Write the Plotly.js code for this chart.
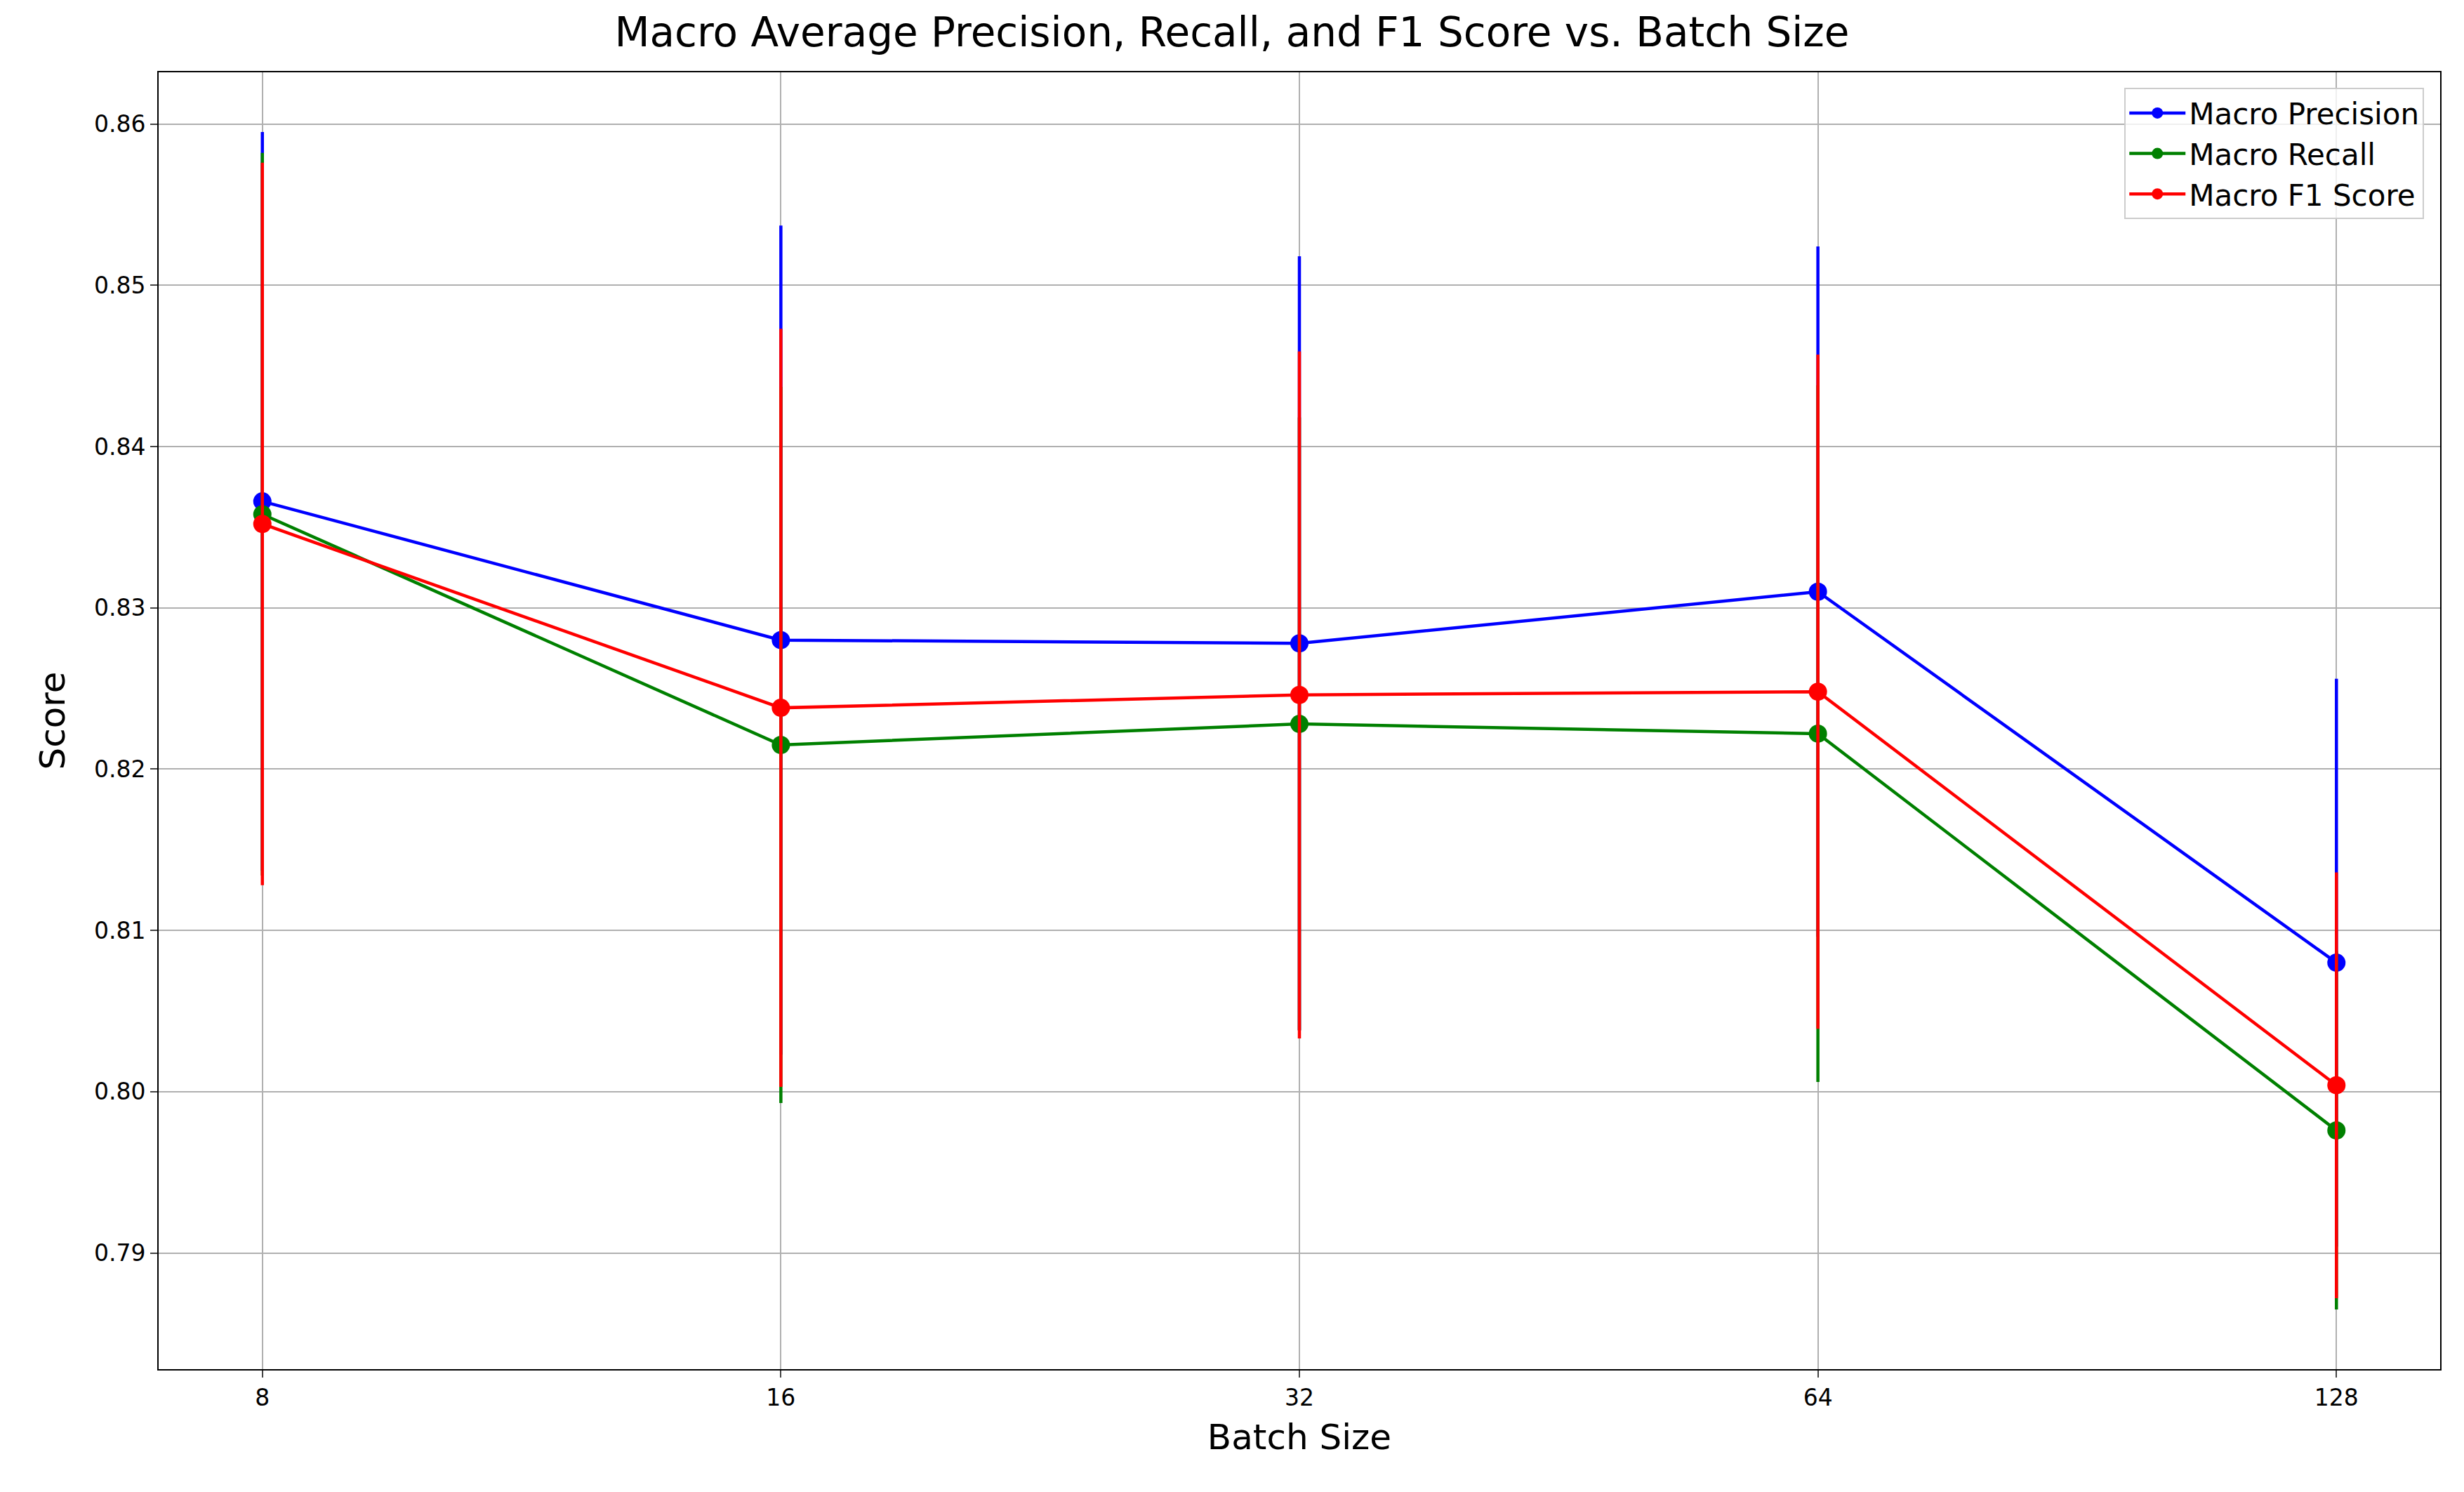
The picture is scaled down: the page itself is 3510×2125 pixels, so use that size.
<!DOCTYPE html>
<html><head><meta charset="utf-8">
<script src="https://cdn.plot.ly/plotly-3.0.1.min.js"></script>
<style>body{margin:0;background:#fff}#chart{width:3510px;height:2125px}</style>
</head><body><div id="chart"></div>
<script>
const batchSizes = [8, 16, 32, 64, 128];
const precision = [0.8366, 0.8280, 0.8278, 0.8310, 0.8080];
const precisionErr = [0.0229, 0.0257, 0.0240, 0.0214, 0.0176];
const recall = [0.8358, 0.8215, 0.8228, 0.8222, 0.7976];
const recallErr = [0.0224, 0.0222, 0.0190, 0.0216, 0.0111];
const f1 = [0.8352, 0.8238, 0.8246, 0.8248, 0.8004];
const f1Err = [0.0224, 0.0235, 0.0213, 0.0209, 0.0132];

const series = [
  ['Macro Precision', precision, precisionErr, '#0000ff'],
  ['Macro Recall', recall, recallErr, '#008000'],
  ['Macro F1 Score', f1, f1Err, '#ff0000']
];
const traces = series.map(([name, y, e, color]) => ({
  type: 'scatter', mode: 'lines+markers', name, x: batchSizes, y,
  line: {color, width: 4.5}, marker: {color, size: 26},
  error_y: {type: 'data', array: e, visible: true, color, thickness: 4.5, width: 0}
}));
const L2 = Math.log10(2);
const font = {family: 'DejaVu Sans', color: '#000'};
Plotly.newPlot('chart', traces, {
  width: 3510, height: 2125,
  margin: {l: 226, r: 34, t: 103, b: 175},
  paper_bgcolor: '#fff', plot_bgcolor: '#fff', font,
  title: {text: 'Macro Average Precision, Recall, and F1 Score vs. Batch Size', font: {size: 58, color: '#000'}, x: 0.5, xanchor: 'center', y: 0.988, yanchor: 'top'},
  xaxis: {type: 'log', range: [2.8 * L2, 7.2 * L2], tickvals: batchSizes, ticktext: batchSizes.map(String),
    showgrid: true, gridcolor: '#b0b0b0', gridwidth: 2, zeroline: false, ticks: 'outside', ticklen: 10, tickwidth: 2,
    showline: true, mirror: true, linecolor: '#000', linewidth: 2, tickfont: {size: 33},
    title: {text: 'Batch Size', font: {size: 50}, standoff: 20}},
  yaxis: {range: [0.7828, 0.8632], tickvals: [0.79, 0.80, 0.81, 0.82, 0.83, 0.84, 0.85, 0.86], tickformat: '.2f',
    showgrid: true, gridcolor: '#b0b0b0', gridwidth: 2, zeroline: false, ticks: 'outside', ticklen: 10, tickwidth: 2,
    showline: true, mirror: true, linecolor: '#000', linewidth: 2, tickfont: {size: 33},
    title: {text: 'Score', font: {size: 50}, standoff: 25}},
  legend: {x: 0.993, xanchor: 'right', y: 0.988, yanchor: 'top', bgcolor: 'rgba(255,255,255,0.8)',
    bordercolor: '#cccccc', borderwidth: 2, font: {size: 42}, itemwidth: 80, tracegroupgap: 6}
}, {displayModeBar: false});
</script></body></html>
